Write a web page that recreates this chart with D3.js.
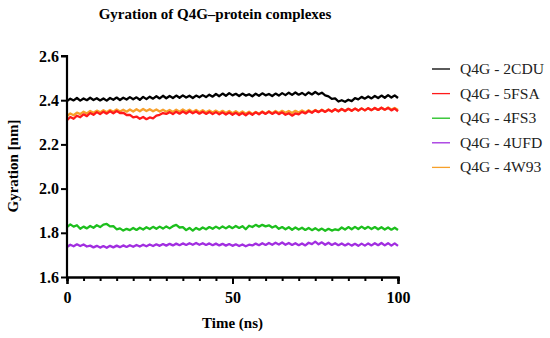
<!DOCTYPE html>
<html>
<head>
<meta charset="utf-8">
<script src="https://cdn.jsdelivr.net/npm/d3@7"></script>
<style>
  body { margin: 0; background: #fff; }
  svg text { font-family: "Liberation Serif", "Times New Roman", serif; }
</style>
</head>
<body>
<div id="main"></div>
<script>
// time axis: one reading per ns, 0..100
const timeNs = d3.range(0, 101);

const labels = ["Q4G - 2CDU", "Q4G - 5FSA", "Q4G - 4FS3", "Q4G - 4UFD", "Q4G - 4W93"];
const colors = ["#000000", "#ff1a1a", "#1dbf1d", "#a12ee0", "#f7a02a"];

const rg2CDU = [
  2.396, 2.407, 2.399, 2.410, 2.398, 2.408, 2.400, 2.411, 2.401, 2.409, 2.399,
  2.408, 2.398, 2.410, 2.402, 2.412, 2.401, 2.411, 2.403, 2.414, 2.404,
  2.413, 2.402, 2.415, 2.405, 2.416, 2.407, 2.418, 2.408, 2.420, 2.409,
  2.419, 2.410, 2.421, 2.411, 2.422, 2.412, 2.420, 2.410, 2.421, 2.413,
  2.423, 2.414, 2.425, 2.416, 2.428, 2.418, 2.430, 2.420, 2.432, 2.422,
  2.429, 2.419, 2.430, 2.421, 2.427, 2.418, 2.429, 2.420, 2.431, 2.422,
  2.428, 2.419, 2.430, 2.421, 2.432, 2.423, 2.434, 2.424, 2.435, 2.425,
  2.433, 2.423, 2.435, 2.426, 2.437, 2.427, 2.434, 2.422, 2.417, 2.406,
  2.408, 2.394, 2.400, 2.393, 2.402, 2.396, 2.409, 2.404, 2.415, 2.407,
  2.417, 2.408, 2.419, 2.410, 2.421, 2.411, 2.423, 2.412, 2.422, 2.410, 2.420
];
const rg5FSA = [
  2.310, 2.324, 2.316, 2.330, 2.323, 2.336, 2.328, 2.342, 2.334, 2.346, 2.337,
  2.348, 2.339, 2.350, 2.341, 2.351, 2.342, 2.343, 2.333, 2.334, 2.322,
  2.326, 2.316, 2.324, 2.314, 2.322, 2.318, 2.330, 2.334, 2.342, 2.338,
  2.346, 2.337, 2.348, 2.339, 2.349, 2.340, 2.350, 2.341, 2.349, 2.339,
  2.348, 2.338, 2.347, 2.337, 2.346, 2.336, 2.345, 2.335, 2.344, 2.334,
  2.343, 2.333, 2.342, 2.332, 2.343, 2.334, 2.345, 2.336, 2.347, 2.338,
  2.348, 2.338, 2.347, 2.337, 2.345, 2.334, 2.341, 2.330, 2.340, 2.336,
  2.347, 2.340, 2.351, 2.343, 2.354, 2.346, 2.356, 2.347, 2.357, 2.349,
  2.359, 2.350, 2.360, 2.351, 2.361, 2.352, 2.362, 2.353, 2.363, 2.354,
  2.364, 2.355, 2.365, 2.356, 2.366, 2.357, 2.365, 2.354, 2.362, 2.350, 2.358
];
const rg4FS3 = [
  1.826, 1.838, 1.828, 1.834, 1.818, 1.828, 1.820, 1.831, 1.823, 1.834, 1.826,
  1.837, 1.840, 1.829, 1.830, 1.816, 1.820, 1.810, 1.818, 1.812, 1.822,
  1.813, 1.823, 1.815, 1.825, 1.817, 1.827, 1.818, 1.828, 1.819, 1.829,
  1.820, 1.830, 1.836, 1.824, 1.826, 1.812, 1.822, 1.810, 1.822, 1.814,
  1.824, 1.816, 1.826, 1.818, 1.828, 1.819, 1.829, 1.820, 1.830, 1.821,
  1.831, 1.822, 1.830, 1.816, 1.832, 1.826, 1.836, 1.828, 1.836, 1.829,
  1.834, 1.824, 1.831, 1.818, 1.826, 1.816, 1.825, 1.814, 1.824, 1.815,
  1.823, 1.813, 1.822, 1.812, 1.821, 1.811, 1.819, 1.809, 1.818, 1.810,
  1.816, 1.812, 1.824, 1.815, 1.826, 1.816, 1.827, 1.817, 1.828, 1.818,
  1.827, 1.817, 1.826, 1.816, 1.825, 1.815, 1.824, 1.814, 1.823, 1.813, 1.822
];
const rg4UFD = [
  1.736, 1.746, 1.739, 1.748, 1.740, 1.747, 1.738, 1.742, 1.734, 1.741, 1.733,
  1.740, 1.732, 1.741, 1.734, 1.742, 1.735, 1.743, 1.736, 1.744, 1.737,
  1.745, 1.738, 1.746, 1.739, 1.747, 1.740, 1.748, 1.741, 1.749, 1.742,
  1.750, 1.743, 1.751, 1.744, 1.752, 1.745, 1.753, 1.746, 1.754, 1.746,
  1.753, 1.745, 1.752, 1.744, 1.751, 1.743, 1.750, 1.742, 1.749, 1.741,
  1.748, 1.740, 1.747, 1.739, 1.746, 1.743, 1.751, 1.744, 1.753, 1.745,
  1.754, 1.746, 1.755, 1.747, 1.756, 1.746, 1.754, 1.745, 1.753, 1.744,
  1.752, 1.743, 1.755, 1.749, 1.760, 1.748, 1.757, 1.746, 1.755, 1.745,
  1.753, 1.744, 1.752, 1.743, 1.751, 1.742, 1.750, 1.741, 1.751, 1.742,
  1.752, 1.743, 1.753, 1.744, 1.754, 1.743, 1.753, 1.742, 1.752, 1.741, 1.750
];
const rg4W93 = [
  2.328, 2.340, 2.332, 2.344, 2.337, 2.348, 2.340, 2.351, 2.343, 2.353, 2.345,
  2.355, 2.346, 2.356, 2.348, 2.358, 2.349, 2.357, 2.348, 2.358, 2.349,
  2.359, 2.350, 2.360, 2.351, 2.359, 2.350, 2.358, 2.349, 2.357, 2.348,
  2.356, 2.347, 2.357, 2.348, 2.358, 2.349, 2.357, 2.347, 2.356, 2.346,
  2.355, 2.345, 2.354, 2.344, 2.353, 2.343, 2.352, 2.342, 2.351, 2.341,
  2.350, 2.340, 2.349, 2.339, 2.348, 2.338, 2.347, 2.339, 2.349, 2.340,
  2.350, 2.341, 2.351, 2.342, 2.352, 2.343, 2.351, 2.342, 2.352, 2.344,
  2.354, 2.345, 2.355, 2.346, 2.356, 2.347, 2.357, 2.348, 2.358, 2.349,
  2.359, 2.350, 2.360, 2.351, 2.361, 2.352, 2.362, 2.353, 2.363, 2.354,
  2.364, 2.355, 2.365, 2.356, 2.366, 2.357, 2.367, 2.358, 2.365, 2.356, 2.363
];

const yTicks = [1.6, 1.8, 2.0, 2.2, 2.4, 2.6];
const xTicks = [0, 50, 100];

const W = 550, H = 338;
const m = {left: 67, right: 152, top: 56, bottom: 61};

const svg = d3.select("#main").append("svg").attr("width", W).attr("height", H);

const x = d3.scaleLinear().domain([0, 100]).range([m.left, W - m.right]);
const y = d3.scaleLinear().domain([1.6, 2.6]).range([H - m.bottom, m.top]);

const series = [rg2CDU, rg5FSA, rg4FS3, rg4UFD, rg4W93];
// draw order: orange behind red
const drawOrder = [0, 4, 1, 2, 3];

const line = d3.line().x((d, i) => x(timeNs[i])).y(d => y(d));

const plot = svg.append("g").attr("id", "lines");
drawOrder.forEach(function(k){
    plot.append("path")
        .datum(series[k])
        .attr("d", line)
        .attr("fill", "none")
        .attr("stroke", colors[k])
        .attr("stroke-width", 2.3)
        .attr("stroke-linejoin", "round");
});

// axes
const yAxis = svg.append("g")
    .attr("transform", "translate(" + m.left + ",0)")
    .call(d3.axisLeft(y).tickValues(yTicks).tickFormat(d3.format(".1f")).tickSize(6).tickPadding(2));
const xMinor = svg.append("g")
    .attr("transform", "translate(0," + (H - m.bottom) + ")")
    .call(d3.axisBottom(x).tickValues(d3.range(0, 101, 5)).tickFormat("").tickSize(4));
const xAxis = svg.append("g")
    .attr("transform", "translate(0," + (H - m.bottom) + ")")
    .call(d3.axisBottom(x).tickValues(xTicks).tickSize(7).tickPadding(8));

[yAxis, xMinor, xAxis].forEach(function(g){
    g.select(".domain").attr("stroke", "#000").attr("stroke-width", 2.2);
    g.selectAll(".tick line").attr("stroke", "#000").attr("stroke-width", 2);
    g.selectAll(".tick text")
        .attr("fill", "#000")
        .style("font-family", "'Liberation Serif', serif")
        .style("font-size", "16px")
        .style("font-weight", "bold");
});
yAxis.select(".domain").attr("d", "M0," + y(1.6) + "V" + y(2.6) + "H-6");

// titles
svg.append("text")
    .attr("x", 215).attr("y", 19)
    .attr("text-anchor", "middle")
    .style("font-size", "15px").style("font-weight", "bold")
    .text("Gyration of Q4G\u2013protein complexes");

svg.append("text")
    .attr("x", x(50)).attr("y", 328)
    .attr("text-anchor", "middle")
    .style("font-size", "15px").style("font-weight", "bold")
    .text("Time (ns)");

svg.append("text")
    .attr("transform", "translate(18,166) rotate(-90)")
    .attr("text-anchor", "middle")
    .style("font-size", "15px").style("font-weight", "bold")
    .text("Gyration [nm]");

// legend
const legend = svg.append("g").attr("id", "legend");
labels.forEach(function(lab, i){
    const ly = 69 + i * 24.6;
    legend.append("line")
        .attr("x1", 432).attr("x2", 450)
        .attr("y1", ly).attr("y2", ly)
        .attr("stroke", colors[i]).attr("stroke-width", 1.3);
    legend.append("text")
        .attr("x", 460).attr("y", ly + 5)
        .style("font-size", "15.6px")
        .attr("fill", "#222")
        .text(lab);
});
</script>
</body>
</html>
